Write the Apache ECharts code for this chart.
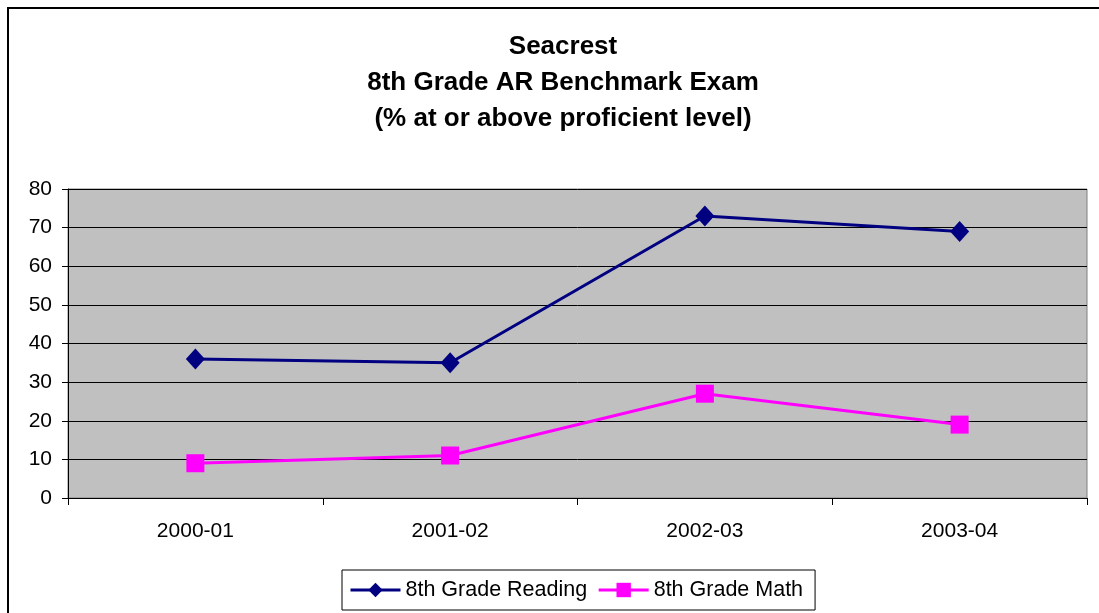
<!DOCTYPE html>
<html>
<head>
<meta charset="utf-8">
<script src="https://cdn.jsdelivr.net/npm/echarts@6/dist/echarts.min.js"></script>
<style>
html,body{margin:0;padding:0;background:#fff;}
#chart{width:1099px;height:613px;}
</style>
</head>
<body>
<div id="chart"></div>
<script>
const categories = ['2000-01', '2001-02', '2002-03', '2003-04'];
const readingValues = [36, 35, 73, 69];
const mathValues = [9, 11, 27, 19];
const yTicks = { min: 0, max: 80, interval: 10 };
const titleLines = ['Seacrest', '8th Grade AR Benchmark Exam', '(% at or above proficient level)'];

const FONT = '"Liberation Sans", Arial, sans-serif';
const chart = echarts.init(document.getElementById('chart'));
chart.setOption({
  animation: false,
  backgroundColor: '#ffffff',
  title: {
    text: titleLines.join('\n'),
    left: 558,
    textAlign: 'center',
    top: 24,
    textStyle: { fontFamily: FONT, fontSize: 26, fontWeight: 'bold', color: '#000', lineHeight: 36 }
  },
  graphic: [{
    type: 'rect',
    shape: { x: 8, y: 8, width: 1200, height: 700 },
    style: { fill: null, stroke: '#000', lineWidth: 2 },
    silent: true,
    z: 100
  }],
  legend: {
    left: 342,
    top: 570,
    padding: [9, 12, 9, 7],
    itemGap: 10,
    itemWidth: 50,
    itemHeight: 18,
    borderColor: '#000',
    borderWidth: 1,
    backgroundColor: '#fff',
    lineStyle: { width: 3 },
    textStyle: { fontFamily: FONT, fontSize: 21.5, color: '#000', lineHeight: 22 },
    data: ['8th Grade Reading', '8th Grade Math']
  },
  grid: {
    left: 68, right: 12, top: 189, bottom: 115,
    show: true,
    backgroundColor: '#C0C0C0',
    borderColor: '#808080',
    borderWidth: 1
  },
  xAxis: {
    type: 'category',
    data: categories,
    boundaryGap: true,
    axisLine: { lineStyle: { color: '#000', width: 1 } },
    axisTick: { show: true, length: 7, lineStyle: { color: '#000' } },
    axisLabel: { fontFamily: FONT, fontSize: 21, color: '#000', margin: 23 },
    splitLine: { show: false }
  },
  yAxis: {
    type: 'value',
    min: yTicks.min, max: yTicks.max, interval: yTicks.interval,
    axisLine: { show: true, lineStyle: { color: '#000', width: 1 } },
    axisTick: { show: true, length: 6, lineStyle: { color: '#000' } },
    axisLabel: { fontFamily: FONT, fontSize: 21, color: '#000', margin: 16 },
    splitLine: { show: true, lineStyle: { color: '#000', width: 1 } }
  },
  series: [
    {
      name: '8th Grade Reading',
      type: 'line',
      data: readingValues,
      symbol: 'diamond',
      symbolSize: [19, 21],
      color: '#000080',
      lineStyle: { color: '#000080', width: 3 },
      itemStyle: { color: '#000080' },
      z: 3
    },
    {
      name: '8th Grade Math',
      type: 'line',
      data: mathValues,
      symbol: 'rect',
      symbolSize: 18,
      color: '#FF00FF',
      lineStyle: { color: '#FF00FF', width: 3 },
      itemStyle: { color: '#FF00FF' },
      z: 2
    }
  ]
});
</script>
</body>
</html>
